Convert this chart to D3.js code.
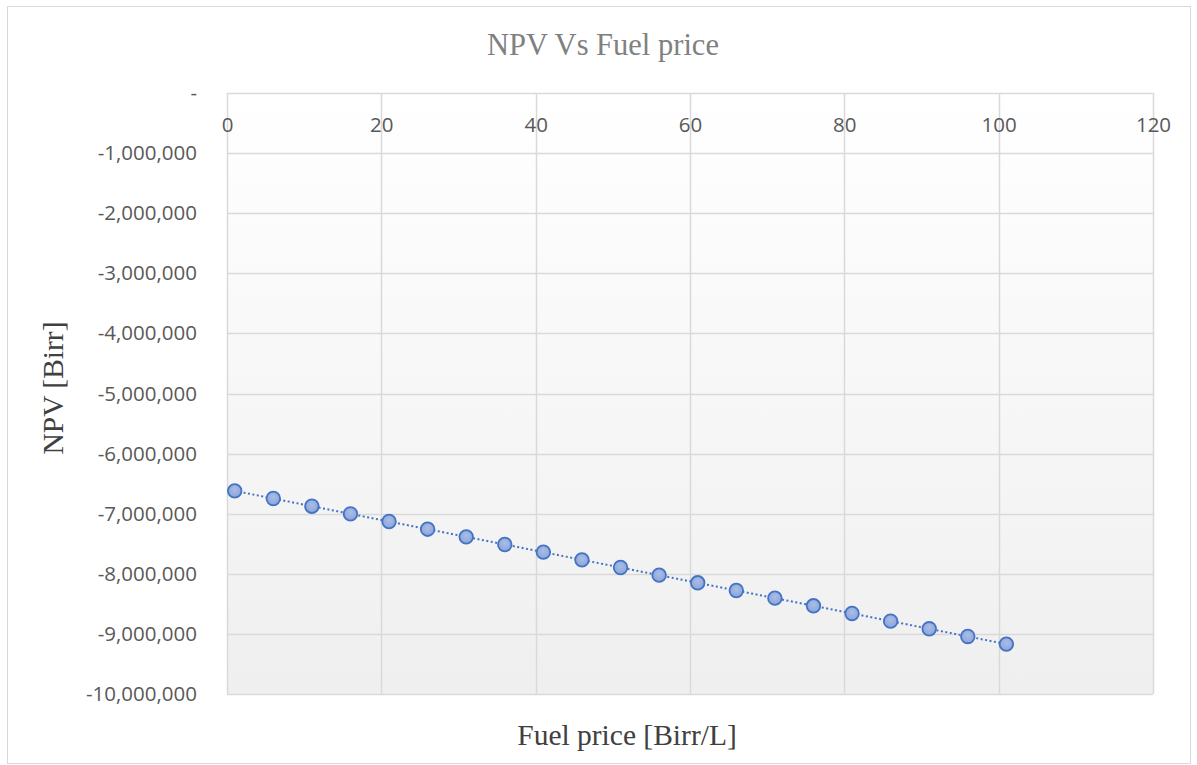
<!DOCTYPE html>
<html>
<head>
<meta charset="utf-8">
<script src="https://cdn.jsdelivr.net/npm/d3@7"></script>
<style>
  html, body { margin: 0; padding: 0; background: #ffffff; }
  svg { display: block; }
</style>
</head>
<body>
<svg id="chart" width="1197" height="765"></svg>
<script>
// Fuel price (Birr/L) against project NPV (Birr)
const fuelPrice = [1, 6, 11, 16, 21, 26, 31, 36, 41, 46, 51, 56, 61, 66, 71, 76, 81, 86, 91, 96, 101];
const npv = [
  -6620000, -6747500, -6875000, -7002500, -7130000, -7257500, -7385000,
  -7512500, -7640000, -7767500, -7895000, -8022500, -8150000, -8277500,
  -8405000, -8532500, -8660000, -8787500, -8915000, -9042500, -9170000
];
const xTicks = [0, 20, 40, 60, 80, 100, 120];
const yTicks = [0, -1000000, -2000000, -3000000, -4000000, -5000000,
                -6000000, -7000000, -8000000, -9000000, -10000000];

const svg = d3.select("#chart");
const W = 1197, H = 765;
const plot = { left: 227, top: 93, right: 1153, bottom: 694 };

// Chart border
svg.append("rect")
  .attr("x", 7.5).attr("y", 6.5)
  .attr("width", W - 14).attr("height", H - 8)
  .attr("fill", "#ffffff").attr("stroke", "#d9d9d9").attr("stroke-width", 1);

const x = d3.scaleLinear().domain([0, 120]).range([plot.left, plot.right]);
const y = d3.scaleLinear().domain([-10000000, 0]).range([plot.bottom, plot.top]);

// Plot background with soft vertical gradient
const defs = svg.append("defs");
const bg = defs.append("linearGradient").attr("id", "plotBg")
  .attr("x1", 0).attr("y1", 0).attr("x2", 0).attr("y2", 1);
bg.append("stop").attr("offset", "0%").attr("stop-color", "#ffffff");
bg.append("stop").attr("offset", "100%").attr("stop-color", "#efefef");

const mk = defs.append("radialGradient").attr("id", "markerFill")
  .attr("cx", "50%").attr("cy", "40%").attr("r", "60%");
mk.append("stop").attr("offset", "0%").attr("stop-color", "#a9bde6");
mk.append("stop").attr("offset", "100%").attr("stop-color", "#8ba5da");

svg.append("rect")
  .attr("x", plot.left).attr("y", plot.top)
  .attr("width", plot.right - plot.left).attr("height", plot.bottom - plot.top)
  .attr("fill", "url(#plotBg)");

// Gridlines
svg.append("g")
  .selectAll("line")
  .data(yTicks)
  .join("line")
  .attr("x1", plot.left).attr("x2", plot.right)
  .attr("y1", d => Math.round(y(d)) + 0.5).attr("y2", d => Math.round(y(d)) + 0.5)
  .attr("stroke", "#d9d9d9").attr("stroke-width", 1.5);

svg.append("g")
  .selectAll("line")
  .data(xTicks)
  .join("line")
  .attr("x1", d => Math.round(x(d)) + 0.5).attr("x2", d => Math.round(x(d)) + 0.5)
  .attr("y1", plot.top).attr("y2", plot.bottom)
  .attr("stroke", "#d9d9d9").attr("stroke-width", 1.5);

// Axes (labels only; lines come from the grid)
const fmt = d => d === 0 ? "-" : d3.format(",")(d).replace("\u2212", "-");
const tickFont = "'Open Sans', 'Liberation Sans', sans-serif";

const yAxis = svg.append("g")
  .attr("transform", `translate(${plot.left - 30},0)`)
  .call(d3.axisLeft(y).tickValues(yTicks).tickFormat(fmt).tickSize(0).tickPadding(0));
yAxis.select(".domain").remove();
yAxis.selectAll("text")
  .attr("font-family", tickFont)
  .attr("font-size", 20.5).attr("fill", "#595959");

const xAxis = svg.append("g")
  .attr("transform", `translate(0,${plot.top})`)
  .call(d3.axisTop(x).tickValues(xTicks).tickFormat(d3.format("d")).tickSize(0).tickPadding(0));
xAxis.select(".domain").remove();
xAxis.selectAll("text")
  .attr("font-family", tickFont)
  .attr("font-size", 20.5).attr("fill", "#595959")
  .attr("dy", "1.88em");

// Data series
const pts = fuelPrice.map((f, i) => ({ f, v: npv[i] }));

svg.append("path")
  .datum(pts)
  .attr("fill", "none")
  .attr("stroke", "#4472c4")
  .attr("stroke-width", 2)
  .attr("stroke-dasharray", "2,2.5")
  .attr("d", d3.line().x(d => x(d.f)).y(d => y(d.v)));

svg.append("g")
  .selectAll("circle")
  .data(pts)
  .join("circle")
  .attr("cx", d => x(d.f))
  .attr("cy", d => y(d.v))
  .attr("r", 6.8)
  .attr("fill", "url(#markerFill)")
  .attr("stroke", "#4472c4")
  .attr("stroke-width", 1.8);

// Titles
const serif = "'Liberation Serif', 'DejaVu Serif', serif";

svg.append("text")
  .attr("x", 603).attr("y", 55)
  .attr("text-anchor", "middle")
  .attr("font-family", serif)
  .attr("font-size", 30.5).attr("fill", "#808080")
  .text("NPV Vs Fuel price");

svg.append("text")
  .attr("x", 627).attr("y", 745)
  .attr("text-anchor", "middle")
  .attr("font-family", serif)
  .attr("font-size", 29.5).attr("fill", "#404040")
  .text("Fuel price [Birr/L]");

svg.append("text")
  .attr("transform", "translate(63,388) rotate(-90)")
  .attr("text-anchor", "middle")
  .attr("font-family", serif)
  .attr("font-size", 29.5).attr("fill", "#404040")
  .text("NPV [Birr]");
</script>
</body>
</html>
